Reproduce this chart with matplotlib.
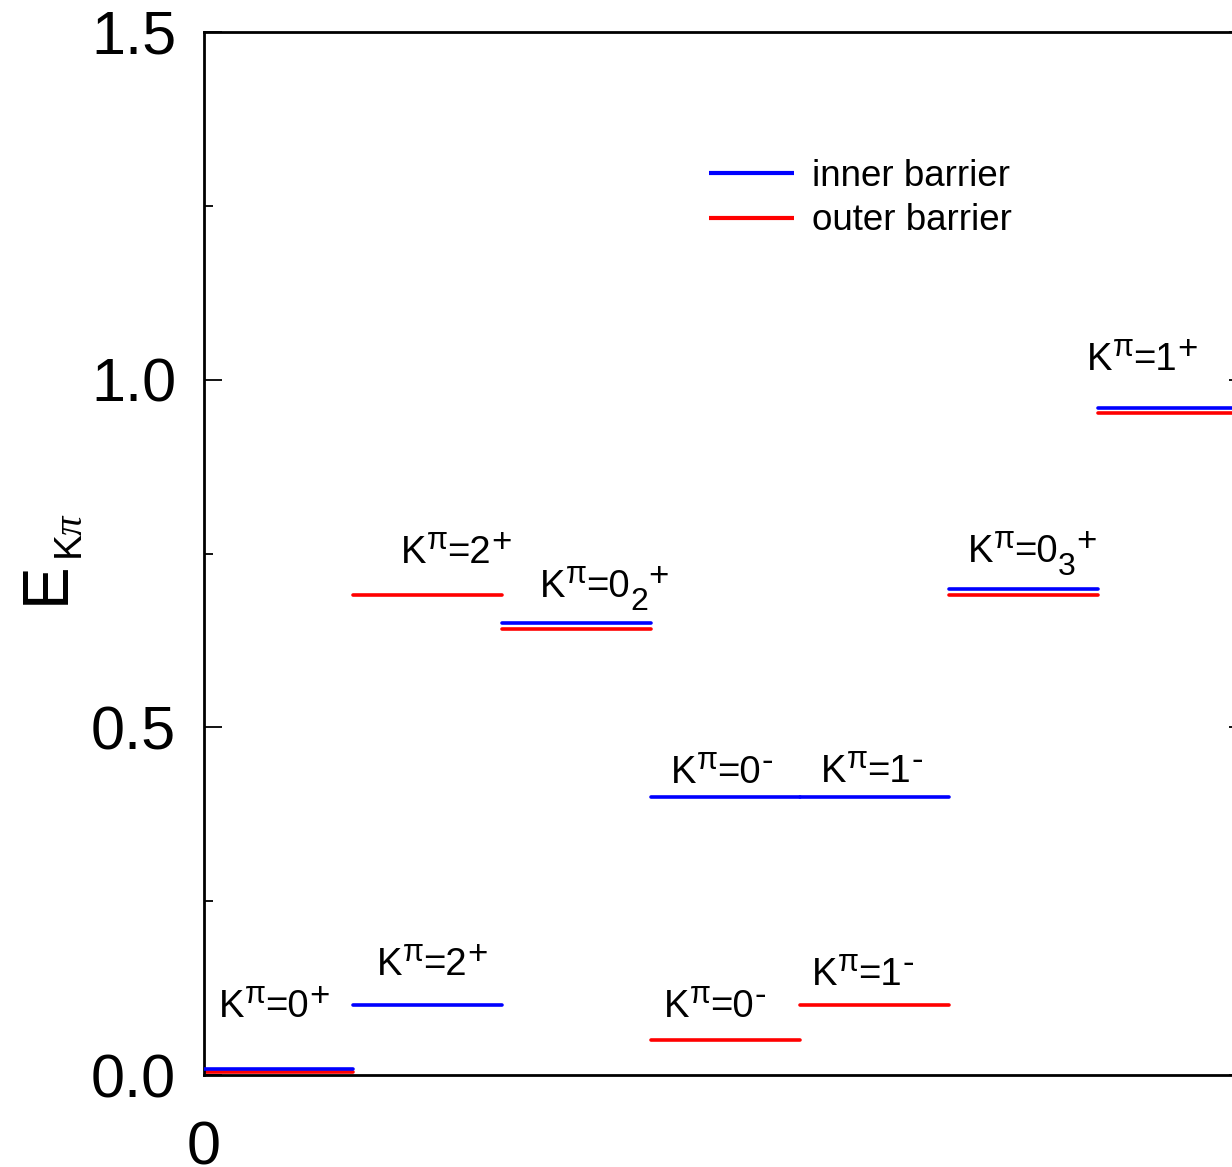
import matplotlib
matplotlib.use("Agg")
import matplotlib.pyplot as plt
from matplotlib.ticker import MultipleLocator, FormatStrFormatter

plt.rcParams['font.family'] = ['Liberation Sans', 'DejaVu Sans']
plt.rcParams['mathtext.fontset'] = 'custom'
plt.rcParams['mathtext.rm'] = 'Liberation Sans'
plt.rcParams['mathtext.it'] = 'Liberation Serif:italic'
plt.rcParams['mathtext.bf'] = 'Liberation Sans:bold'

# level slots (x start of each band, width 1)
slots = [0, 1, 2, 3, 4, 5, 6]
inner_E = [0.009, 0.100, 0.650, 0.400, 0.400, 0.699, 0.959]
outer_E = [0.004, 0.690, 0.641, 0.050, 0.100, 0.690, 0.952]

# level labels K^pi = K_sub ^parity
label_K = ['0', '2', '2', '0', '0', '1', '0', '1', '0', '1']
label_sub = ['', '', '', '2', '', '', '', '', '3', '']
label_par = ['+', '+', '+', '+', '-', '-', '-', '-', '+', '+']
label_x = [0.101, 1.161, 1.322, 2.255, 3.134, 4.141, 3.087, 4.081, 5.128, 5.926]
label_y = [0.0834, 0.1438, 0.7364, 0.6875, 0.420, 0.4214, 0.0834, 0.1294, 0.7378, 1.014]

W, H = 1232, 1167
fig = plt.figure(figsize=(W / 100, H / 100), dpi=100)
ax = fig.add_axes([204 / W, (H - 1075) / H, (1247 - 204) / W, (1075 - 32) / H])

lw = 2.6
for i, x0 in enumerate(slots):
    ax.hlines(inner_E[i], x0, x0 + 1, color='#0000ff', lw=lw, capstyle='round',
              label='inner barrier' if i == 0 else None, zorder=3)
    ax.hlines(outer_E[i], x0, x0 + 1, color='#ff0000', lw=lw, capstyle='round',
              label='outer barrier' if i == 0 else None, zorder=2)

FS = 27.5
styles = {
    'pi': (22, 10.5),
    'sup': (25, 8.5),
    'supm': (25, 9.5),
    'sub': (23, -8.4),
    'norm': (FS, 0.0),
}


def draw_label(x, y, parts):
    t0 = ax.text(x, y, parts[0][0], fontsize=FS, ha='left', va='baseline')
    prev = t0
    for txt, kind in parts[1:]:
        size, dy = styles[kind]
        prev = ax.annotate(txt, xy=(1, 0), xycoords=(prev, t0), xytext=(0, dy),
                           textcoords='offset points', fontsize=size,
                           ha='left', va='bottom')


for k, sub, par, x, y in zip(label_K, label_sub, label_par, label_x, label_y):
    parts = [('K', 'norm'), ('π', 'pi'), ('=' + k, 'norm')]
    if sub:
        parts.append((sub, 'sub'))
    parts.append((par, 'sup' if par == '+' else 'supm'))
    draw_label(x, y, parts)

ax.set_xlim(0, 7)
ax.set_ylim(0, 1.5)
ax.set_xticks([0])
ax.set_xticklabels(['0'])
ax.yaxis.set_major_locator(MultipleLocator(0.5))
ax.yaxis.set_minor_locator(MultipleLocator(0.25))
ax.yaxis.set_major_formatter(FormatStrFormatter('%.1f'))
ax.tick_params(axis='y', which='both', direction='in', left=True, right=True,
               labelsize=44, pad=20, width=1.3)
ax.tick_params(axis='y', which='major', length=13)
ax.tick_params(axis='y', which='minor', length=6.5)
ax.tick_params(axis='x', which='both', length=0, labelsize=44, pad=33)
for s in ax.spines.values():
    s.set_linewidth(2)

# y label E_{K pi}
fig.text(64 / W, 1 - 604 / H, 'E', rotation=90, rotation_mode='anchor',
         ha='left', va='baseline', fontsize=46)
fig.text(82 / W, 1 - 561 / H, r'K$\mathit{π}$', rotation=90, rotation_mode='anchor',
         ha='left', va='baseline', fontsize=28)

leg = ax.legend(loc='upper left', bbox_to_anchor=(0.4842, 0.878), frameon=False,
                fontsize=26.5, handlelength=2.3, handletextpad=0.5,
                borderpad=0, borderaxespad=0, labelspacing=0.25)
for h in leg.legend_handles:
    h.set_linewidth(3)

fig.savefig('out.png', dpi=100)
